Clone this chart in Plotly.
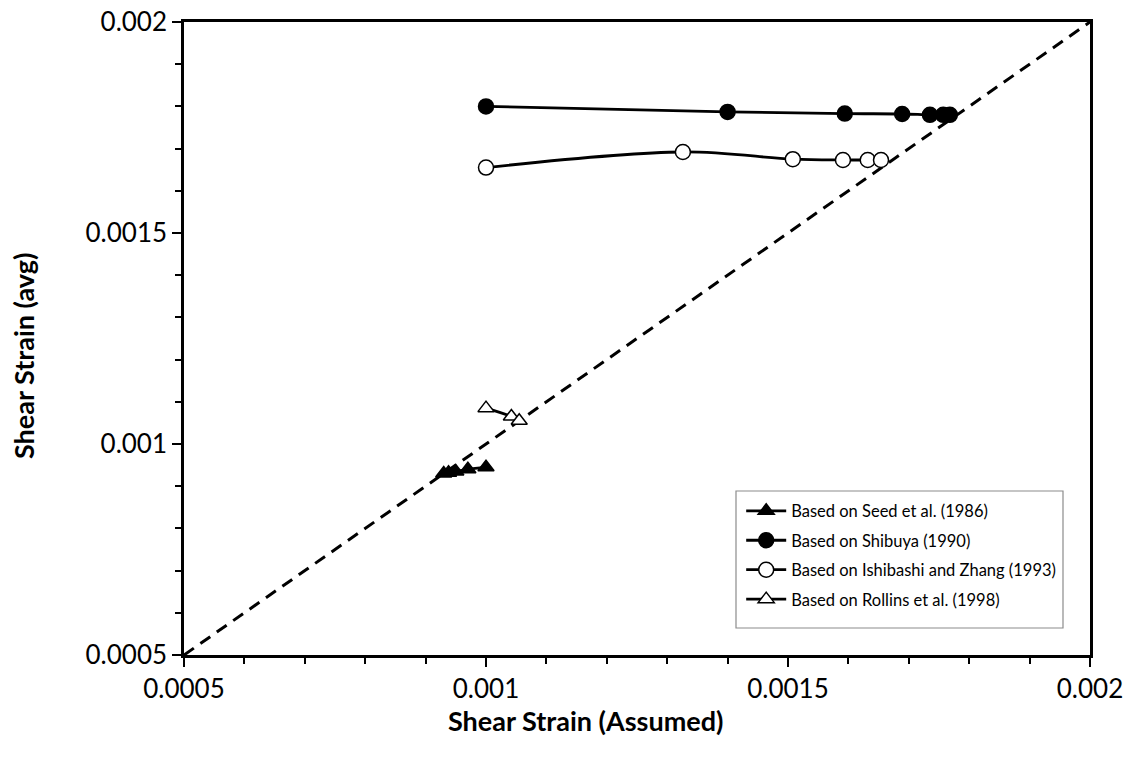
import plotly.graph_objects as go

# Data
seed_x = [0.00093, 0.000938, 0.00095, 0.00097, 0.001]
seed_y = [0.00093, 0.000932, 0.000935, 0.00094, 0.000945]

shibuya_x = [0.001, 0.0014, 0.001594, 0.001689, 0.001735, 0.001757, 0.001768]
shibuya_y = [0.0018, 0.001787, 0.001783, 0.001782, 0.00178, 0.00178, 0.00178]

ishibashi_x = [0.001, 0.001326, 0.001508, 0.001591, 0.001632, 0.001654]
ishibashi_y = [0.001655, 0.001692, 0.001675, 0.001673, 0.001673, 0.001673]

rollins_x = [0.001, 0.001042, 0.001055]
rollins_y = [0.001085, 0.001065, 0.001055]

ref_x = [0.0005, 0.002]
ref_y = [0.0005, 0.002]

tick_vals = [0.0005, 0.001, 0.0015, 0.002]
tick_text = ["0.0005", "0.001", "0.0015", "0.002"]

FONT = "Lato"
TICK_SIZE = 26
TITLE_SIZE = 27

fig = go.Figure()

fig.add_trace(go.Scatter(x=ref_x, y=ref_y, mode="lines", showlegend=False,
                         line=dict(color="black", width=3, dash="12px,8px"),
                         hoverinfo="skip"))

series = [
    (seed_x, seed_y, "Based on Seed et al. (1986)", "triangle-up", "black", 14),
    (shibuya_x, shibuya_y, "Based on Shibuya (1990)", "circle", "black", 15),
    (ishibashi_x, ishibashi_y, "Based on Ishibashi and Zhang (1993)", "circle", "white", 15),
    (rollins_x, rollins_y, "Based on Rollins et al. (1998)", "triangle-up", "white", 14),
]
for i, (sx, sy, nm, sym, fill, sz) in enumerate(series):
    fig.add_trace(go.Scatter(x=sx, y=sy, mode="lines+markers", name=nm,
                             legendgroup=f"g{i}",
                             line=dict(color="black", width=2.8, shape="spline"),
                             marker=dict(symbol=sym, size=sz, color=fill,
                                         line=dict(color="black", width=1.5))))

axis_common = dict(
    range=[0.0005, 0.002],
    tickvals=tick_vals, ticktext=tick_text,
    showgrid=False, zeroline=False, automargin=False,
    ticklabeloverflow="allow",
    showline=True, linecolor="black", linewidth=2.5, mirror=True,
    ticks="outside", ticklen=9, tickwidth=2, tickcolor="black",
    minor=dict(dtick=0.0001, ticks="outside", ticklen=6, tickwidth=2,
               tickcolor="black", showgrid=False),
    tickfont=dict(family=FONT, size=TICK_SIZE, color="black"),
)

fig.update_layout(
    width=1135, height=763,
    margin=dict(l=184, r=45, t=22, b=108),
    plot_bgcolor="white", paper_bgcolor="white",
    xaxis=dict(axis_common),
    yaxis=dict(axis_common),
    legend=dict(x=0.615, y=0.255, xanchor="left", yanchor="top",
                bgcolor="rgba(0,0,0,0)", borderwidth=0,
                font=dict(family=FONT, size=16.5, color="black"),
                itemwidth=40, tracegroupgap=5),
    showlegend=True,
    shapes=[dict(type="rect", xref="paper", yref="paper",
                 x0=(736 - 184) / 906, x1=(1063 - 184) / 906,
                 y0=(655 - 628) / 633, y1=(655 - 491) / 633,
                 line=dict(color="#8c8c8c", width=1.2),
                 fillcolor="white", layer="below")],
    annotations=[
        dict(text="<b>Shear Strain (Assumed)</b>", xref="paper", yref="paper",
             x=(585 - 184) / 906, y=(655 - 720) / 633,
             xanchor="center", yanchor="middle", showarrow=False,
             font=dict(family=FONT, size=TITLE_SIZE, color="black")),
        dict(text="<b>Shear Strain (avg)</b>", xref="paper", yref="paper",
             x=(23 - 184) / 906, y=(655 - 356) / 633, textangle=-90,
             xanchor="center", yanchor="middle", showarrow=False,
             font=dict(family=FONT, size=TITLE_SIZE, color="black")),
    ],
)

fig.write_html("out.html", config={"displayModeBar": False},
               post_script="document.body.style.margin='0';document.body.style.overflow='hidden';")
